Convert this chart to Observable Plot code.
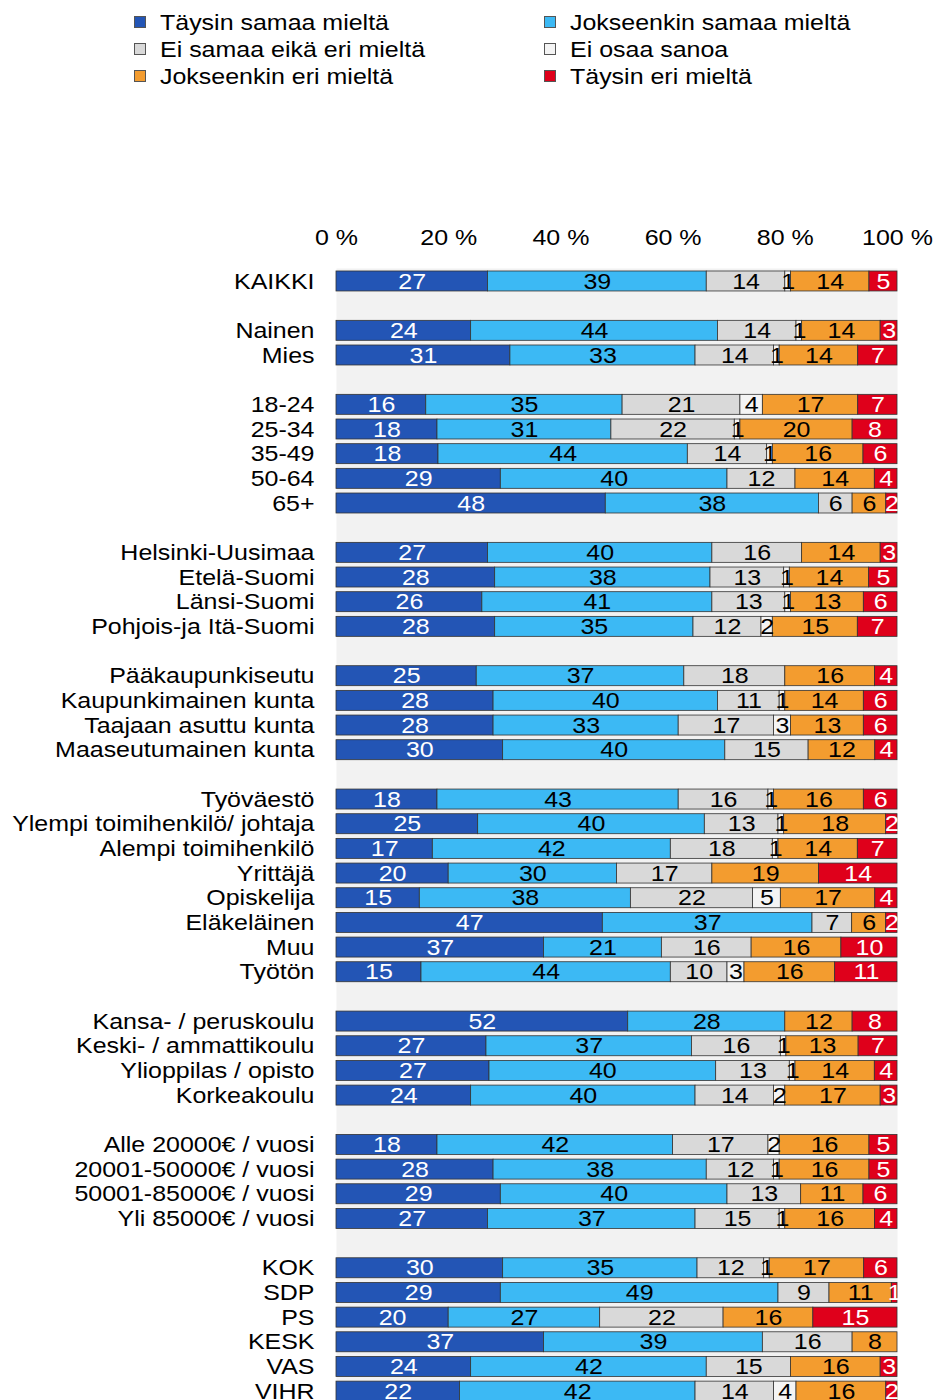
<!DOCTYPE html>
<html><head><meta charset="utf-8">
<script src="https://cdn.jsdelivr.net/npm/d3@7"></script>
<script src="https://cdn.jsdelivr.net/npm/@observablehq/plot@0.6"></script>
<style>
html,body{margin:0;padding:0;background:#fff;overflow:hidden;}
body{width:934px;height:1400px;font-family:"Liberation Sans",Arial,sans-serif;}
#legend{position:relative;height:110px;}
.item{position:absolute;display:flex;align-items:center;font-size:22px;line-height:27px;color:#000;white-space:nowrap;}
.item .lbl{display:inline-block;transform:scaleX(1.135);transform-origin:left center;}
.sw{width:10px;height:10px;border:1px solid #555;margin-right:14px;}
#chart{height:1290px;overflow:hidden;}
</style></head><body>
<div id="legend"></div><div id="chart"></div>
<script>
const series = ["Täysin samaa mieltä","Jokseenkin samaa mieltä","Ei samaa eikä eri mieltä","Ei osaa sanoa","Jokseenkin eri mieltä","Täysin eri mieltä"];
const colors = ["#2355b5","#3cb9f4","#d9d9d9","#f4f4f4","#f39c2f","#df001b"];
const whiteLabelSeries = ["Täysin samaa mieltä","Täysin eri mieltä"];

const groups = [
  ["KAIKKI"],
  ["Nainen","Mies"],
  ["18-24","25-34","35-49","50-64","65+"],
  ["Helsinki-Uusimaa","Etelä-Suomi","Länsi-Suomi","Pohjois-ja Itä-Suomi"],
  ["Pääkaupunkiseutu","Kaupunkimainen kunta","Taajaan asuttu kunta","Maaseutumainen kunta"],
  ["Työväestö","Ylempi toimihenkilö/ johtaja","Alempi toimihenkilö","Yrittäjä","Opiskelija","Eläkeläinen","Muu","Työtön"],
  ["Kansa- / peruskoulu","Keski- / ammattikoulu","Ylioppilas / opisto","Korkeakoulu"],
  ["Alle 20000€ / vuosi","20001-50000€ / vuosi","50001-85000€ / vuosi","Yli 85000€ / vuosi"],
  ["KOK","SDP","PS","KESK","VAS","VIHR"]
];
const categories = groups.flat();

const taysinSamaa     = [27, 24,31, 16,18,18,29,48, 27,28,26,28, 25,28,28,30, 18,25,17,20,15,47,37,15, 52,27,27,24, 18,28,29,27, 30,29,20,37,24,22];
const jokseenkinSamaa = [39, 44,33, 35,31,44,40,38, 40,38,41,35, 37,40,33,40, 43,40,42,30,38,37,21,44, 28,37,40,40, 42,38,40,37, 35,49,27,39,42,42];
const eiSamaaEikaEri  = [14, 14,14, 21,22,14,12,6, 16,13,13,12, 18,11,17,15, 16,13,18,17,22,7,16,10, 0,16,13,14, 17,12,13,15, 12,9,22,16,15,14];
const eiOsaaSanoa     = [1, 1,1, 4,1,1,0,0, 0,1,1,2, 0,1,3,0, 1,1,1,0,5,0,0,3, 0,1,1,2, 2,1,0,1, 1,0,0,0,0,4];
const jokseenkinEri   = [14, 14,14, 17,20,16,14,6, 14,14,13,15, 16,14,13,12, 16,18,14,19,17,6,16,16, 12,13,14,17, 16,16,11,16, 17,11,16,8,16,16];
const taysinEri       = [5, 3,7, 7,8,6,4,2, 3,5,6,7, 4,6,6,4, 6,2,7,14,4,2,10,11, 8,7,4,3, 5,5,6,4, 6,1,15,0,3,2];
const values = [taysinSamaa, jokseenkinSamaa, eiSamaaEikaEri, eiOsaaSanoa, jokseenkinEri, taysinEri];

const xTicks = [0, 0.2, 0.4, 0.6, 0.8, 1];
const textStretch = 1.135;

// legend
const legend = document.getElementById("legend");
series.forEach((s, i) => {
  const col = i % 2, row = Math.floor(i / 2);
  const el = document.createElement("div");
  el.className = "item";
  el.style.left = (col ? 544 : 134) + "px";
  el.style.top = (8.5 + row * 27) + "px";
  const sw = document.createElement("span");
  sw.className = "sw";
  sw.style.background = colors[i];
  const lbl = document.createElement("span");
  lbl.className = "lbl";
  lbl.textContent = s;
  el.appendChild(sw);
  el.appendChild(lbl);
  legend.appendChild(el);
});

// data
const data = [];
categories.forEach((c, i) => series.forEach((s, j) => data.push({cat: c, series: s, value: values[j][i]})));

const yDomain = [];
groups.forEach((g, i) => { if (i > 0) yDomain.push("gap" + i); yDomain.push(...g); });

const stackOpts = {offset: "normalize", order: null, x: "value", y: "cat"};

const chart = Plot.plot({
  width: 934,
  height: 1290,
  marginLeft: 336,
  marginRight: 37,
  marginTop: 158,
  marginBottom: 0,
  style: {fontFamily: '"Liberation Sans", Arial, sans-serif', fontSize: "22px", background: "transparent", color: "#000"},
  x: {domain: [0, 1]},
  y: {domain: yDomain, range: [156.3, 1295.8], padding: 0.19},
  color: {domain: series, range: colors},
  marks: [
    Plot.frame({fill: "#f2f2f2", stroke: "none"}),
    Plot.barX(data, Plot.stackX({...stackOpts, fill: "series", stroke: "#333", strokeWidth: 0.8})),
    Plot.text(data, Plot.stackX({...stackOpts,
      text: d => (whiteLabelSeries.includes(d.series) && d.value > 0) ? String(d.value) : null,
      fill: "white", fontSize: 22})),
    Plot.text(data, Plot.stackX({...stackOpts,
      text: d => (!whiteLabelSeries.includes(d.series) && d.value > 0) ? String(d.value) : null,
      fill: "black", fontSize: 22})),
    Plot.axisX({anchor: "top", ticks: xTicks, tickFormat: d => `${Math.round(d * 100)} %`, tickSize: 0, tickPadding: 24, fontSize: 22, label: null}),
    Plot.axisY({tickSize: 0, tickPadding: 22, fontSize: 22, label: null, tickFormat: d => d.startsWith("gap") ? "" : d})
  ]
});

// stretch glyphs horizontally around each text's anchor point
chart.querySelectorAll("text").forEach(t => {
  const tr = t.getAttribute("transform");
  if (tr) {
    t.setAttribute("transform", tr + ` scale(${textStretch},1)`);
  } else {
    const x = +(t.getAttribute("x") || 0);
    const y = t.getAttribute("y");
    t.setAttribute("x", 0);
    t.setAttribute("transform", `translate(${x},0) scale(${textStretch},1)`);
    if (y != null) t.setAttribute("y", y);
  }
});
document.getElementById("chart").appendChild(chart);
</script>
</body></html>
